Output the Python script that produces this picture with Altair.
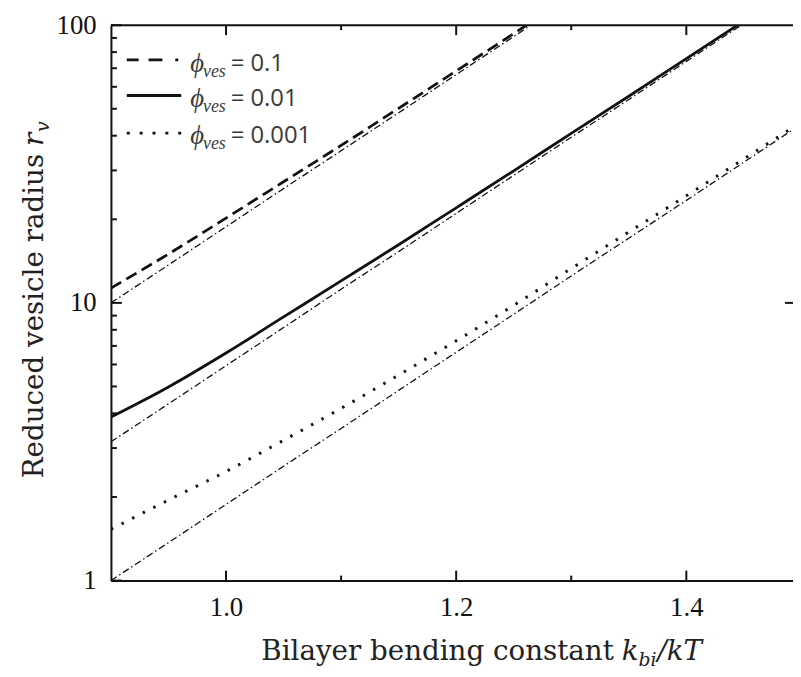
import altair as alt
import pandas as pd

# ---- data ----
k_vals = [0.90, 0.95, 1.00, 1.05, 1.10, 1.15, 1.20, 1.25, 1.30, 1.35, 1.40, 1.45, 1.50]

# full curves
r_phi_0p1 = [11.3, 15.0, 20.2, 27.3, 36.9, 50.2, 68.4, 93.3, 127.6]
r_phi_0p01 = [3.88, 4.98, 6.6, 8.9, 12.0, 16.2, 22.0, 29.9, 40.8, 55.5, 75.8, 103.5]
r_phi_0p001 = [1.53, 1.95, 2.47, 3.2, 4.17, 5.5, 7.3, 9.8, 13.3, 18.0, 24.3, 33.0, 44.8]

# dash-dot asymptotes
a_phi_0p1 = [10.0, 13.7, 18.8, 25.8, 35.3, 48.4, 66.4, 91.0, 125.0]
a_phi_0p01 = [3.16, 4.33, 5.94, 8.15, 11.2, 15.3, 21.0, 28.8, 39.5, 54.0, 74.1, 101.5]
a_phi_0p001 = [1.00, 1.37, 1.88, 2.58, 3.53, 4.84, 6.64, 9.10, 12.5, 17.1, 23.4, 32.1, 44.1]

legend_values = ["0.1", "0.01", "0.001"]

x_major_ticks = [1.0, 1.2, 1.4]
x_minor_ticks = [1.1, 1.3]
y_major_ticks = [1, 10, 100]
y_minor_ticks = [2, 3, 4, 5, 6, 7, 8, 9, 20, 30, 40, 50, 60, 70, 80, 90]

W, H = 689, 561
INK = "#111111"
SERIF = "DejaVu Serif"
TICKFONT = "Liberation Serif"


def series(rs):
    return pd.DataFrame({"k": k_vals[:len(rs)], "r": rs})


xs = alt.Scale(domain=[0.9, 1.4927], nice=False, zero=False)
ys = alt.Scale(type="log", domain=[1, 100], nice=False)
x_axis = alt.Axis(values=x_major_ticks, format=".1f", ticks=False, grid=False, title=None,
                  domainColor=INK, domainWidth=2, labelFont=TICKFONT, labelFontSize=27,
                  labelColor=INK, labelPadding=14)
y_axis = alt.Axis(values=y_major_ticks, format="d", ticks=False, grid=False, title=None,
                  domainColor=INK, domainWidth=2, labelFont=TICKFONT, labelFontSize=27,
                  labelColor=INK, labelPadding=15)
X = alt.X("k:Q", scale=xs, axis=x_axis)
Y = alt.Y("r:Q", scale=ys, axis=y_axis)


def line(rs, **kw):
    return alt.Chart(series(rs)).mark_line(clip=True, color=INK, interpolate="monotone",
                                           **kw).encode(x=X, y=Y)


dashdot = dict(strokeWidth=1.3, strokeDash=[7, 3, 1.5, 3])
layers = [
    line(r_phi_0p1, strokeWidth=2.8, strokeDash=[12, 6]),
    line(r_phi_0p01, strokeWidth=2.8),
    line(r_phi_0p001, strokeWidth=3, strokeDash=[2.5, 9.5]),
    line(a_phi_0p1, **dashdot),
    line(a_phi_0p01, **dashdot),
    line(a_phi_0p001, **dashdot),
]

# ---- inward ticks ----
def xticks(vals, y1, y2):
    return alt.Chart(pd.DataFrame({"k": vals})).mark_rule(color=INK, strokeWidth=2).encode(
        x=X, y=alt.value(y1), y2=alt.value(y2))


def yticks(vals, x1, x2):
    return alt.Chart(pd.DataFrame({"r": vals})).mark_rule(color=INK, strokeWidth=2).encode(
        y=Y, x=alt.value(x1), x2=alt.value(x2))


layers += [
    xticks(x_major_ticks, H, H - 10), xticks(x_minor_ticks, H, H - 5),
    xticks(x_major_ticks, 0, 10), xticks(x_minor_ticks, 0, 5),
    yticks(y_major_ticks, 0, 11), yticks(y_minor_ticks, 0, 6),
    yticks([10], W - 8, W),
]

# top border
layers.append(alt.Chart(alt.Data(values=[{}])).mark_rule(color=INK, strokeWidth=2).encode(
    x=alt.value(0), x2=alt.value(W), y=alt.value(0)))


def txt(s, x, y, **kw):
    return alt.Chart(alt.Data(values=[{}])).mark_text(text=s, **kw).encode(
        x=alt.value(x), y=alt.value(y))


# ---- axis titles ----
X1 = 508
TY = 641
layers += [
    txt("Bilayer bending constant", X1, TY, align="right", baseline="alphabetic",
        font=SERIF, fontSize=28, color="#222222"),
    txt("k", X1 + 8, TY, align="left", baseline="alphabetic", font=SERIF, fontSize=28,
        fontStyle="italic", color="#222222"),
    txt("bi", X1 + 25, TY + 6, align="left", baseline="alphabetic", font=SERIF, fontSize=19,
        fontStyle="italic", color="#222222"),
    txt("/kT", X1 + 44, TY, align="left", baseline="alphabetic", font=SERIF, fontSize=28,
        fontStyle="italic", color="#222222"),
]
Y1 = 130
YX = -69
layers += [
    txt("Reduced vesicle radius", YX, Y1, align="right", baseline="alphabetic", angle=270,
        font=SERIF, fontSize=28, color="#222222"),
    txt("r", YX, Y1 - 8, align="left", baseline="alphabetic", angle=270, font=SERIF,
        fontSize=28, fontStyle="italic", color="#222222"),
    txt("v", YX + 6, Y1 - 22, align="left", baseline="alphabetic", angle=270, font=SERIF,
        fontSize=19, fontStyle="italic", color="#222222"),
]

# ---- custom legend ----
LEG = "#3a3a3a"
rows = [(35, 39, dict(strokeWidth=2.8, strokeDash=[12, 10, 14, 13, 3, 100])),
        (71, 75, dict(strokeWidth=2.8)),
        (109, 112, dict(strokeWidth=3, strokeDash=[3, 10]))]
for (ly, ty, style), lab in zip(rows, legend_values):
    layers.append(alt.Chart(alt.Data(values=[{}])).mark_rule(color=INK, **style).encode(
        x=alt.value(16), x2=alt.value(71), y=alt.value(ly)))
    layers += [
        txt("\u03d5", 80, ty, align="left", baseline="middle", font="Liberation Serif",
            fontSize=27, fontStyle="italic", color=LEG),
        txt("ves", 93, ty + 8, align="left", baseline="middle", font="Liberation Serif",
            fontSize=18, fontStyle="italic", color=LEG),
        txt("= " + lab, 121, ty, align="left", baseline="middle", font="Open Sans",
            fontSize=24, color=LEG),
    ]

chart = alt.layer(*layers).properties(
    width=W, height=H,
    padding={"left": 104, "top": 14, "right": 0, "bottom": 90},
    autosize=alt.AutoSizeParams(type="none"),
).configure_view(strokeWidth=0).configure(background="white")

chart.save("out.html", embed_options={"renderer": "svg", "actions": False})
